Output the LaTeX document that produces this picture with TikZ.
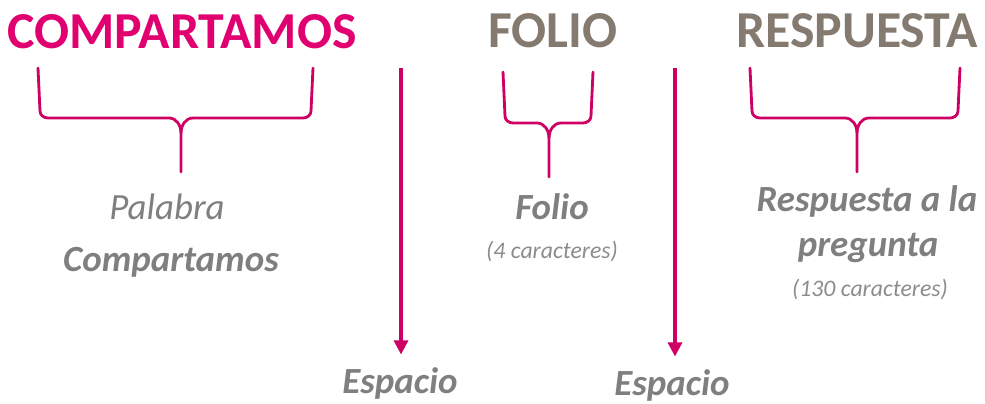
\documentclass[tikz,border=0pt]{standalone}
\usepackage{fontspec}
\setmainfont{Carlito}
\usetikzlibrary{arrows.meta}

\definecolor{rosa}{HTML}{E0006F}
\definecolor{rosaoscuro}{HTML}{CF0064}
\definecolor{cafe}{HTML}{857A70}
\definecolor{gris}{HTML}{7F7F7F}
\definecolor{grisclaro}{HTML}{8C8C8C}

\tikzset{%
  every title/.style={
    font=\fontsize{29.5}{32}\selectfont\bfseries,
    anchor=base,
    inner sep=0pt
  },
  every label text/.style={
    font=\fontsize{21}{24}\selectfont\bfseries\itshape,
    text=gris,
    anchor=base,
    inner sep=0pt
  },
  note text/.style={
    font=\fontsize{13.5}{16}\selectfont\itshape,
    text=grisclaro,
    anchor=base,
    inner sep=0pt
  },
  brace/.style={
    draw=rosaoscuro,
    line width=1.6pt,
    line cap=round
  },
  space arrow/.style={
    draw=rosaoscuro,
    line width=1.8pt,
    -{Triangle[width=8pt,length=8pt]}
  },
}

\begin{document}
\begin{tikzpicture}[x=0.02cm, y=-0.02cm]
\useasboundingbox (0,0) rectangle (985,403);

% titles
\node [every title, text=rosa] (compartamos) at (182,48) {COMPARTAMOS};
\node [every title, text=cafe] (folio) at (553,47) {FOLIO};
\node [every title, text=cafe] (respuesta) at (857,47) {RESPUESTA};

% braces: left/right/middle x, top y, bar y, tip y
\foreach \l/\r/\m/\t/\b/\e in {38/313/181/68/118/172, 503/593/549/72/123/177, 750/960/857/68/118/172}
{
  \draw [brace] (\l,\t) -- (\l+2,\b-7) to[out=-90,in=180] (\l+10,\b)
    -- (\m-12,\b) to[out=0,in=90] (\m,\b+15) -- (\m,\e);
  \draw [brace] (\r,\t) -- (\r-2,\b-7) to[out=-90,in=0] (\r-10,\b)
    -- (\m+12,\b) to[out=180,in=90] (\m,\b+15);
}

% labels under the braces
\node [every label text, font=\fontsize{21}{24}\selectfont\itshape] (palabra) at (167,219) {Palabra};
\node [every label text] (palabra-2) at (171,271) {Compartamos};
\node [every label text] (folio-label) at (552,219) {Folio};
\node [note text] (folio-note) at (552,258) {(4 caracteres)};
\node [every label text] (respuesta-label) at (867,211) {Respuesta a la};
\node [every label text] (respuesta-label-2) at (868,256) {pregunta};
\node [note text] (respuesta-note) at (870,296) {(130 caracteres)};

% spaces
\foreach \x/\y/\n [count=\i] in {400/393/401, 672/395/675}
{
  \node [every label text] (espacio-\i) at (\x,\y) {Espacio};
  \coordinate (top-\i) at (\n,68);
  \draw [space arrow, shorten >=7] (top-\i) -- (top-\i |- espacio-\i.north);
}

\end{tikzpicture}
\end{document}
